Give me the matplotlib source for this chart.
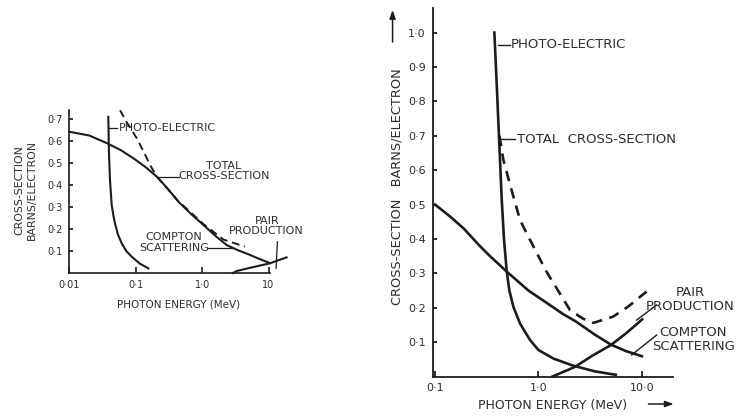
import matplotlib
matplotlib.use('Agg')

import matplotlib.pyplot as plt

# --- low-Z absorber (left panel) ---
l_compton_e = [0.01, 0.02, 0.0369, 0.06, 0.0927, 0.14, 0.208, 0.3, 0.44, 0.7, 1.05, 1.6, 2.35, 3.5, 5.0, 7.0, 10.5]
l_compton_s = [0.642, 0.625, 0.59, 0.558, 0.521, 0.482, 0.438, 0.385, 0.324, 0.265, 0.218, 0.168, 0.127, 0.103, 0.085, 0.066, 0.045]
l_total_e = [0.058, 0.075, 0.104, 0.135, 0.165, 0.208, 0.44, 1.05, 2.1, 4.4]
l_total_s = [0.74, 0.68, 0.612, 0.545, 0.49, 0.438, 0.326, 0.222, 0.152, 0.12]
l_photo_e = [0.0387, 0.0395, 0.041, 0.0435, 0.0465, 0.0487, 0.054, 0.0615, 0.072, 0.0871, 0.115, 0.155]
l_photo_s = [0.71, 0.55, 0.423, 0.309, 0.255, 0.226, 0.175, 0.135, 0.100, 0.074, 0.043, 0.021]
l_pair_e = [2.9, 3.33, 5.0, 10.5, 18.7]
l_pair_s = [0.0, 0.009, 0.022, 0.044, 0.071]
l_xticks = [0.01, 0.1, 1.0, 10]
l_xlabels = ['0·01', '0·1', '1·0', '10']
l_yticks = [0.1, 0.2, 0.3, 0.4, 0.5, 0.6, 0.7]

# --- high-Z absorber (right panel) ---
r_compton_e = [0.1, 0.14, 0.19, 0.27, 0.34, 0.494, 0.8, 1.19, 1.7, 2.3, 3.5, 5.0, 7.0, 10.0]
r_compton_s = [0.50, 0.465, 0.43, 0.38, 0.35, 0.305, 0.25, 0.215, 0.183, 0.16, 0.122, 0.093, 0.074, 0.059]
r_photo_e = [0.375, 0.395, 0.418, 0.442, 0.465, 0.494, 0.523, 0.572, 0.664, 0.83, 1.0, 1.4, 2.14, 3.5, 5.6]
r_photo_s = [1.0, 0.85, 0.68, 0.513, 0.397, 0.305, 0.251, 0.203, 0.154, 0.106, 0.077, 0.052, 0.032, 0.015, 0.005]
r_pair_e = [1.37, 2.26, 3.3, 5.0, 7.0, 10.07]
r_pair_s = [0.0, 0.028, 0.06, 0.091, 0.125, 0.166]
r_total_e = [0.42, 0.458, 0.552, 0.664, 0.77, 1.19, 2.02, 2.7, 3.41, 5.27, 7.5, 11.1]
r_total_s = [0.70, 0.63, 0.54, 0.455, 0.416, 0.306, 0.193, 0.168, 0.156, 0.174, 0.205, 0.247]
r_xticks = [0.1, 1.0, 10.0]
r_xlabels = ['0·1', '1·0', '10·0']
r_yticks = [0.1, 0.2, 0.3, 0.4, 0.5, 0.6, 0.7, 0.8, 0.9, 1.0]

INK = '#1c1c1c'
TXT = '#2e2e2e'
plt.rcParams['font.family'] = ['DejaVu Sans']


def fmt(v):
    return f'{v:.1f}'.replace('.', '·')


def style_axes(ax, xticks, xlabels, yticks, fs, lw):
    ax.set_xscale('log')
    ax.spines['top'].set_visible(False)
    ax.spines['right'].set_visible(False)
    for s in ('left', 'bottom'):
        ax.spines[s].set_color(INK)
        ax.spines[s].set_linewidth(lw)
    ax.set_xticks(xticks)
    ax.set_xticklabels(xlabels)
    ax.xaxis.set_minor_locator(matplotlib.ticker.NullLocator())
    ax.set_yticks(yticks)
    ax.set_yticklabels([fmt(v) for v in yticks])
    ax.tick_params(axis='x', direction='in', length=4, width=lw, colors=INK,
                   labelsize=fs, labelcolor=TXT, pad=5)
    ax.tick_params(axis='y', direction='in', length=3, width=lw, colors=INK,
                   labelsize=fs, labelcolor=TXT, pad=5)
    ax.patch.set_visible(False)


fig = plt.figure(figsize=(7.39, 4.18), dpi=100)

# left panel
axL = fig.add_axes([69.3 / 739, (418 - 273) / 418, 219.2 / 739, 165 / 418])
axL.set_xlim(0.01, 20)
axL.set_ylim(0, 0.75)
style_axes(axL, l_xticks, l_xlabels, l_yticks, 7, 1.2)
axL.spines['bottom'].set_bounds(0.01, 10.6)
axL.spines['left'].set_bounds(0, 0.74)

axL.plot(l_total_e, l_total_s, color=INK, lw=1.4, ls=(0, (4, 2.5)), clip_on=False)
axL.plot(l_compton_e, l_compton_s, color=INK, lw=1.5, clip_on=False)
axL.plot(l_photo_e, l_photo_s, color=INK, lw=1.5, clip_on=False)
axL.plot(l_pair_e, l_pair_s, color=INK, lw=1.5, clip_on=False)

axL.plot([0.040, 0.053], [0.659, 0.659], color=INK, lw=0.9)
axL.text(0.0565, 0.659, 'PHOTO-ELECTRIC', fontsize=8, color=TXT, ha='left', va='center')
axL.plot([0.218, 0.45], [0.435, 0.435], color=INK, lw=0.9)
axL.text(2.14, 0.464, 'TOTAL\nCROSS-SECTION', fontsize=8, color=TXT, ha='center',
         va='center', multialignment='center', linespacing=1.05)
axL.plot([1.24, 2.93], [0.112, 0.112], color=INK, lw=0.9)
axL.text(0.379, 0.139, 'COMPTON\nSCATTERING', fontsize=8, color=TXT, ha='center',
         va='center', multialignment='center', linespacing=1.05)
axL.plot([13.6, 13.0], [0.142, 0.021], color=INK, lw=0.9, clip_on=False)
axL.text(9.4, 0.214, 'PAIR\nPRODUCTION', fontsize=8, color=TXT, ha='center',
         va='center', multialignment='center', linespacing=1.05, clip_on=False)

axL.set_xlabel('PHOTON ENERGY (MeV)', fontsize=7.5, color=TXT, labelpad=7)
axL.text(-0.200, 0.5, 'CROSS-SECTION\nBARNS/ELECTRON', transform=axL.transAxes,
         rotation=90, fontsize=7.8, color=TXT, ha='center', va='center',
         multialignment='center', linespacing=1.3)

# right panel
axR = fig.add_axes([432.7 / 739, (418 - 376.5) / 418, 240.3 / 739, 368 / 418])
axR.set_xlim(0.095, 20)
axR.set_ylim(0, 1.07)
style_axes(axR, r_xticks, r_xlabels, r_yticks, 8, 1.3)

axR.plot(r_total_e, r_total_s, color=INK, lw=1.9, ls=(0, (4, 2.8)), clip_on=False)
axR.plot(r_compton_e, r_compton_s, color=INK, lw=1.9, clip_on=False)
axR.plot(r_photo_e, r_photo_s, color=INK, lw=1.9, clip_on=False)
axR.plot(r_pair_e, r_pair_s, color=INK, lw=1.9, clip_on=False)

axR.plot([0.407, 0.531], [0.964, 0.964], color=INK, lw=1.0)
axR.text(0.545, 0.964, 'PHOTO-ELECTRIC', fontsize=9.5, color=TXT, ha='left', va='center')
axR.plot([0.425, 0.594], [0.69, 0.69], color=INK, lw=1.0)
axR.text(0.617, 0.69, 'TOTAL  CROSS-SECTION', fontsize=9.5, color=TXT, ha='left', va='center')
axR.plot([8.9, 13.9], [0.164, 0.208], color=INK, lw=1.0, clip_on=False)
axR.text(29.3, 0.224, 'PAIR\nPRODUCTION', fontsize=9.5, color=TXT, ha='center',
         va='center', multialignment='center', linespacing=1.1, clip_on=False)
axR.plot([7.96, 13.9], [0.0625, 0.1206], color=INK, lw=1.0, clip_on=False)
axR.text(31.3, 0.1076, 'COMPTON\nSCATTERING', fontsize=9.5, color=TXT, ha='center',
         va='center', multialignment='center', linespacing=1.1, clip_on=False)

axR.set_xlabel('PHOTON ENERGY (MeV)', fontsize=9, color=TXT, labelpad=4)
axR.text(-0.149, 0.515, 'CROSS-SECTION   BARNS/ELECTRON', transform=axR.transAxes,
         rotation=90, fontsize=9.3, color=TXT, ha='center', va='center')

# direction arrows beside the axis titles
axR.annotate('', xy=(-0.167, 0.996), xytext=(-0.167, 0.909), xycoords='axes fraction',
             arrowprops=dict(arrowstyle='-|>,head_length=0.5,head_width=0.18',
                             color=INK, lw=1.1, shrinkA=0, shrinkB=0))
axR.annotate('', xy=(1.003, -0.0747), xytext=(0.898, -0.0747), xycoords='axes fraction',
             arrowprops=dict(arrowstyle='-|>,head_length=0.5,head_width=0.18',
                             color=INK, lw=1.1, shrinkA=0, shrinkB=0))

fig.savefig('out.png', dpi=100, facecolor='white')
